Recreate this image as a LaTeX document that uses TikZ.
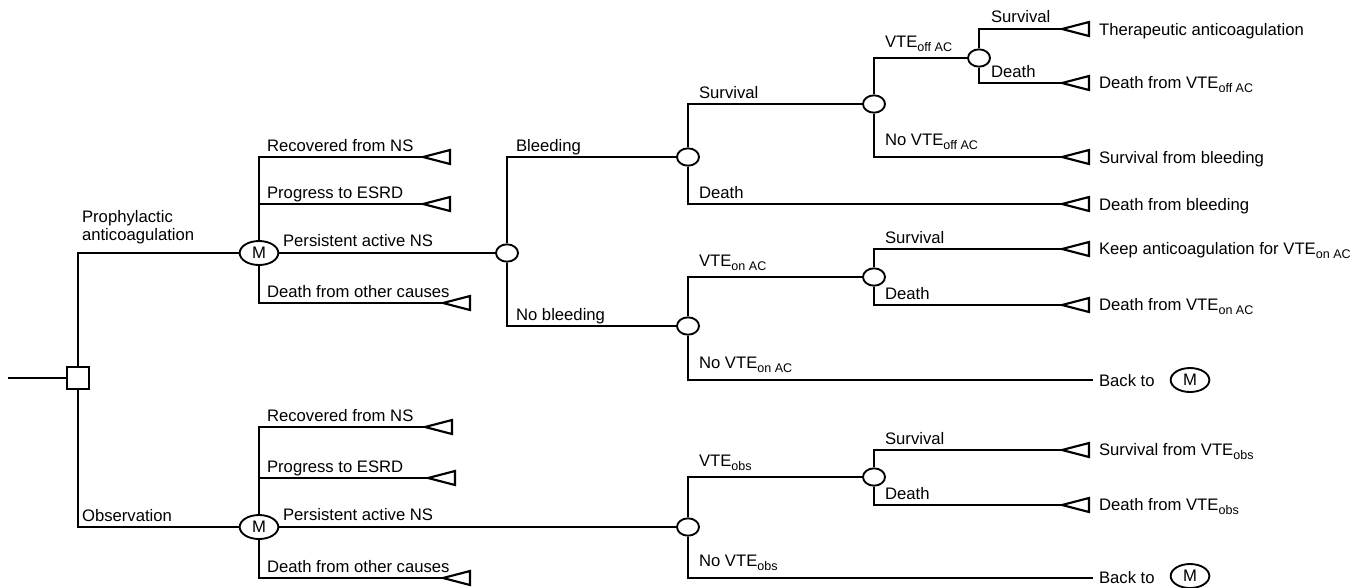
\documentclass[tikz,border=0pt]{standalone}
\usepackage{fontspec}
\setmainfont{Liberation Sans}
\usetikzlibrary{shapes.geometric}

\newcommand{\vsub}[1]{\raisebox{-3.6pt}{\fontsize{9.4}{9.4}\selectfont #1}}

\tikzset{
  txt/.style={inner sep=0pt, font=\fontsize{12.5}{13.5}\selectfont},
  chance/.style={draw, ellipse, line width=1.4pt, minimum width=16.5pt, minimum height=13pt, inner sep=0pt},
  markov/.style={draw, ellipse, line width=1.4pt, minimum width=29pt, minimum height=18pt, inner sep=0pt, font=\fontsize{12.5}{13.5}\selectfont},
  decision/.style={draw, rectangle, line width=1.4pt, minimum size=17pt, inner sep=0pt},
  branch/.style={line width=1.6pt},
}

\begin{document}
\begin{tikzpicture}[x=0.75pt,y=0.75pt,yscale=-1,xscale=1, branch]
\useasboundingbox (0,0) rectangle (1352,587);

%Shape: decision and Markov nodes
\coordinate (root) at (8,378);
\node[decision] (dec) at (78,378) {};
\node[markov] (m1) at (259,253) {M};
\node[markov] (m2) at (259,527) {M};

%Shape: chance nodes
\node[chance] (c1) at (507,253) {};
\node[chance] (c2) at (688,157) {};
\node[chance] (c3) at (688,326) {};
\node[chance] (c4) at (874,104) {};
\node[chance] (c5) at (979,58) {};
\node[chance] (c6) at (874,277) {};
\node[chance] (c7) at (688,527) {};
\node[chance] (c8) at (874,477) {};

%Shape: terminal tips
\coordinate (t1) at (423,157);
\coordinate (t2) at (423,204);
\coordinate (t3) at (443,303);
\coordinate (t4) at (425,427);
\coordinate (t5) at (428,478);
\coordinate (t6) at (443,578);
\coordinate (t7) at (1062,29);
\coordinate (t8) at (1062,83);
\coordinate (t9) at (1062,157);
\coordinate (t10) at (1062,204);
\coordinate (t11) at (1062,249);
\coordinate (t12) at (1062,305);
\coordinate (t13) at (1062,450);
\coordinate (t14) at (1062,505);
\coordinate (b1) at (1093,380);
\coordinate (b2) at (1093,578);

%Shape: branches
\draw (root) -- (dec);
\draw (dec) |- (m1);
\draw (dec) |- (m2);
\draw (m1) |- (t1);
\draw (m1) |- (t2);
\draw (m1) -- (c1);
\draw (m1) |- (t3);
\draw (m2) |- (t4);
\draw (m2) |- (t5);
\draw (m2) -- (c7);
\draw (m2) |- (t6);
\draw (c1) |- (c2);
\draw (c1) |- (c3);
\draw (c2) |- (c4);
\draw (c2) |- (t10);
\draw (c4) |- (c5);
\draw (c4) |- (t9);
\draw (c5) |- (t7);
\draw (c5) |- (t8);
\draw (c3) |- (c6);
\draw (c3) |- (b1);
\draw (c6) |- (t11);
\draw (c6) |- (t12);
\draw (c7) |- (c8);
\draw (c7) |- (b2);
\draw (c8) |- (t13);
\draw (c8) |- (t14);

%Shape: terminal triangles
\foreach \t in {t1,t2,t3,t4,t5,t6,t7,t8,t9,t10,t11,t12,t13,t14}
  \draw (\t) -- ++(27,-7) -- ++(0,14) -- cycle;

% Text Node: strategies
\node[txt, anchor=south west, align=left] (lpro) at (81,245) {Prophylactic\\anticoagulation};
\node[txt, anchor=base west] (lobs) at (81,521) {Observation};

% Text Node: Markov states
\node[txt, anchor=base west] (lrec1) at (266,151) {Recovered from NS};
\node[txt, anchor=base west] (lesrd1) at (266,198) {Progress to ESRD};
\node[txt, anchor=base west] (lpers1) at (282,246) {Persistent active NS};
\node[txt, anchor=base west] (loth1) at (266,297) {Death from other causes};
\node[txt, anchor=base west] (lrec2) at (266,421) {Recovered from NS};
\node[txt, anchor=base west] (lesrd2) at (266,472) {Progress to ESRD};
\node[txt, anchor=base west] (lpers2) at (282,520) {Persistent active NS};
\node[txt, anchor=base west] (loth2) at (266,572) {Death from other causes};

% Text Node: events
\node[txt, anchor=base west] (lbl) at (515,151) {Bleeding};
\node[txt, anchor=base west] (lnobl) at (515,320) {No bleeding};
\node[txt, anchor=base west] (lsurv1) at (698,98) {Survival};
\node[txt, anchor=base west] (ldeath1) at (698,198) {Death};
\node[txt, anchor=base west] (lvoff) at (884,47) {VTE\vsub{off AC}};
\node[txt, anchor=base west] (lnvoff) at (884,145) {No VTE\vsub{off AC}};
\node[txt, anchor=base west] (lsurv2) at (990,22) {Survival};
\node[txt, anchor=base west] (ldeath2) at (990,77) {Death};
\node[txt, anchor=base west] (lvon) at (698,266) {VTE\vsub{on AC}};
\node[txt, anchor=base west] (lnvon) at (698,368) {No VTE\vsub{on AC}};
\node[txt, anchor=base west] (lsurv3) at (884,243) {Survival};
\node[txt, anchor=base west] (ldeath3) at (884,299) {Death};
\node[txt, anchor=base west] (lvobs) at (698,466) {VTE\vsub{obs}};
\node[txt, anchor=base west] (lnvobs) at (698,566) {No VTE\vsub{obs}};
\node[txt, anchor=base west] (lsurv4) at (884,444) {Survival};
\node[txt, anchor=base west] (ldeath4) at (884,499) {Death};

% Text Node: outcomes
\node[txt, anchor=base west] (o1) at (1098,35) {Therapeutic anticoagulation};
\node[txt, anchor=base west] (o2) at (1098,88) {Death from VTE\vsub{off AC}};
\node[txt, anchor=base west] (o3) at (1098,163) {Survival from bleeding};
\node[txt, anchor=base west] (o4) at (1098,210) {Death from bleeding};
\node[txt, anchor=base west] (o5) at (1098,254) {Keep anticoagulation for VTE\vsub{on AC}};
\node[txt, anchor=base west] (o6) at (1098,310) {Death from VTE\vsub{on AC}};
\node[txt, anchor=base west] (o7) at (1098,386) {Back to};
\node[markov] (mb1) at (1190,380) {M};
\node[txt, anchor=base west] (o8) at (1098,455) {Survival from VTE\vsub{obs}};
\node[txt, anchor=base west] (o9) at (1098,510) {Death from VTE\vsub{obs}};
\node[txt, anchor=base west] (o10) at (1098,583) {Back to};
\node[markov] (mb2) at (1190,576) {M};

\end{tikzpicture}
\end{document}
